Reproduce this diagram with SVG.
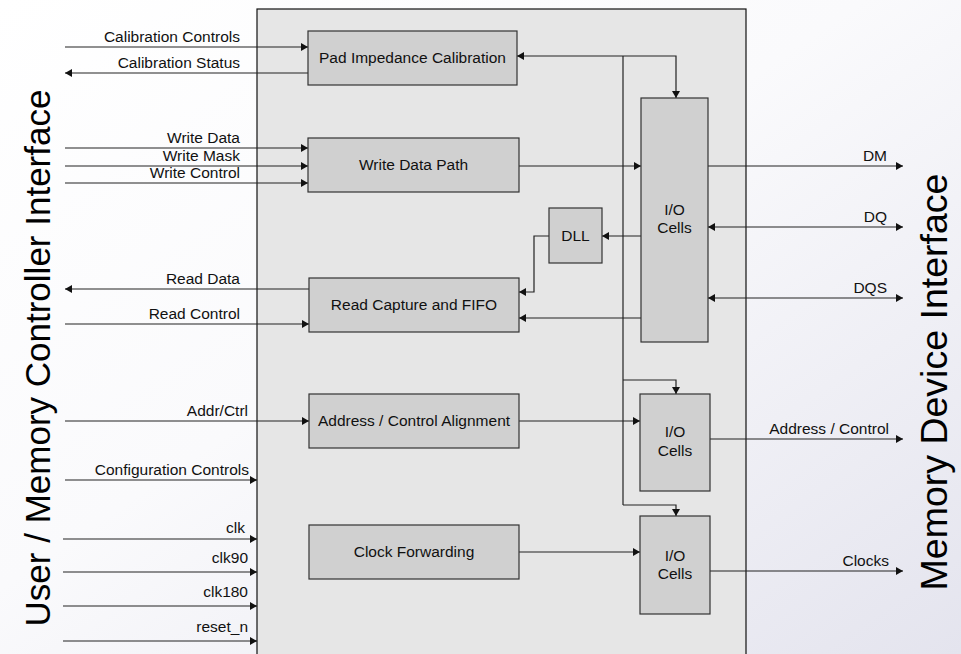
<svg xmlns="http://www.w3.org/2000/svg" width="961" height="654" viewBox="0 0 961 654">
  <defs>
    <linearGradient id="bg" x1="0" y1="0" x2="1" y2="1">
      <stop offset="0" stop-color="#ffffff"/>
      <stop offset="0.45" stop-color="#fafafc"/>
      <stop offset="1" stop-color="#e4e4ee"/>
    </linearGradient>
    <marker id="arr" viewBox="0 0 8 8" refX="7" refY="4" markerWidth="8" markerHeight="8" markerUnits="userSpaceOnUse" orient="auto-start-reverse">
      <path d="M0,0 L7,4 L0,8 z" fill="#111"/>
    </marker>
    <style>
      .t { font-family: "Liberation Sans", Arial, sans-serif; font-size: 15.5px; fill: #111; }
      .r { text-anchor: end; }
      .c { text-anchor: middle; }
      .big { font-family: "Liberation Sans", Arial, sans-serif; fill: #000; text-anchor: middle; }
      .blk { fill: #d0d0d0; stroke: #333; stroke-width: 1.2; }
      .w { fill: none; stroke: #222; stroke-width: 1.2; }
      .a { marker-end: url(#arr); }
      .s { marker-start: url(#arr); }
    </style>
  </defs>

  <!-- page background -->
  <rect x="0" y="0" width="961" height="654" fill="url(#bg)"/>

  <!-- PHY enclosure -->
  <rect id="phy" x="257" y="9" width="489" height="660" fill="#e6e6e6" stroke="#111" stroke-width="1.2"/>

  <!-- side titles -->
  <text class="big" font-size="35" transform="translate(50,358) rotate(-90)">User / Memory Controller Interface</text>
  <text class="big" font-size="37.5" transform="translate(947,382) rotate(-90)">Memory Device Interface</text>

  <g id="connectors">
    <!-- controller side signals -->
    <line class="w a" x1="65" y1="47" x2="308" y2="47"/>
    <line class="w a" x1="308" y1="73" x2="65" y2="73"/>
    <line class="w a" x1="65" y1="148" x2="308" y2="148"/>
    <line class="w a" x1="65" y1="166" x2="308" y2="166"/>
    <line class="w a" x1="65" y1="183" x2="308" y2="183"/>
    <line class="w a" x1="309" y1="289" x2="65" y2="289"/>
    <line class="w a" x1="65" y1="324" x2="309" y2="324"/>
    <line class="w a" x1="65" y1="421" x2="309" y2="421"/>
    <line class="w a" x1="65" y1="480" x2="257" y2="480"/>
    <line class="w a" x1="63" y1="539" x2="257" y2="539"/>
    <line class="w a" x1="63" y1="572" x2="257" y2="572"/>
    <line class="w a" x1="63" y1="606" x2="257" y2="606"/>
    <line class="w a" x1="63" y1="641" x2="257" y2="641"/>

    <!-- calibration distribution -->
    <polyline class="w s a" points="517,56 676,56 676,98"/>
    <line class="w" x1="623" y1="56" x2="623" y2="505"/>
    <polyline class="w a" points="623,380 676,380 676,394"/>
    <polyline class="w a" points="623,505 676,505 676,516"/>

    <!-- internal datapaths -->
    <line class="w a" x1="519" y1="166" x2="641" y2="166"/>
    <line class="w a" x1="641" y1="236" x2="602" y2="236"/>
    <polyline class="w a" points="549,236 534,236 534,292 519,292"/>
    <line class="w a" x1="641" y1="318" x2="519" y2="318"/>
    <line class="w a" x1="519" y1="421" x2="640" y2="421"/>
    <line class="w a" x1="519" y1="552" x2="640" y2="552"/>

    <!-- memory side signals -->
    <line class="w a" x1="708" y1="166" x2="903" y2="166"/>
    <line class="w s a" x1="708" y1="227" x2="903" y2="227"/>
    <line class="w s a" x1="708" y1="298" x2="903" y2="298"/>
    <line class="w a" x1="710" y1="439" x2="903" y2="439"/>
    <line class="w a" x1="710" y1="571" x2="903" y2="571"/>
  </g>

  <!-- signal labels -->
  <g id="labels">
    <text class="t r" x="240" y="42">Calibration Controls</text>
    <text class="t r" x="240" y="68">Calibration Status</text>
    <text class="t r" x="240" y="143">Write Data</text>
    <text class="t r" x="240" y="161">Write Mask</text>
    <text class="t r" x="240" y="178">Write Control</text>
    <text class="t r" x="240" y="284">Read Data</text>
    <text class="t r" x="240" y="319">Read Control</text>
    <text class="t r" x="248" y="416">Addr/Ctrl</text>
    <text class="t r" x="249" y="475">Configuration Controls</text>
    <text class="t r" x="245" y="533">clk</text>
    <text class="t r" x="248" y="563">clk90</text>
    <text class="t r" x="248" y="597">clk180</text>
    <text class="t r" x="248" y="632">reset_n</text>
    <text class="t r" x="887" y="161">DM</text>
    <text class="t r" x="887" y="222">DQ</text>
    <text class="t r" x="887" y="293">DQS</text>
    <text class="t r" x="889" y="434">Address / Control</text>
    <text class="t r" x="889" y="566">Clocks</text>
  </g>

  <g id="pad-cal">
    <rect class="blk" x="308" y="31" width="209" height="54"/>
    <text class="t c" x="412.5" y="63">Pad Impedance Calibration</text>
  </g>
  <g id="write-path">
    <rect class="blk" x="308" y="138" width="211" height="54"/>
    <text class="t c" x="413.5" y="170">Write Data Path</text>
  </g>
  <g id="read-capture">
    <rect class="blk" x="309" y="278" width="210" height="54"/>
    <text class="t c" x="414" y="310">Read Capture and FIFO</text>
  </g>
  <g id="addr-align">
    <rect class="blk" x="309" y="394" width="210" height="54"/>
    <text class="t c" x="414" y="426">Address / Control Alignment</text>
  </g>
  <g id="clock-fwd">
    <rect class="blk" x="309" y="525" width="210" height="54"/>
    <text class="t c" x="414" y="557">Clock Forwarding</text>
  </g>
  <g id="dll">
    <rect class="blk" x="549" y="208" width="53" height="55"/>
    <text class="t c" x="575.5" y="241">DLL</text>
  </g>
  <g id="io-data">
    <rect class="blk" x="641" y="98" width="67" height="244"/>
    <text class="t c" x="674.5" y="215">I/O</text>
    <text class="t c" x="674.5" y="233">Cells</text>
  </g>
  <g id="io-addr">
    <rect class="blk" x="640" y="394" width="70" height="97"/>
    <text class="t c" x="675" y="437">I/O</text>
    <text class="t c" x="675" y="456">Cells</text>
  </g>
  <g id="io-clk">
    <rect class="blk" x="640" y="516" width="70" height="98"/>
    <text class="t c" x="675" y="561">I/O</text>
    <text class="t c" x="675" y="579">Cells</text>
  </g>
</svg>
